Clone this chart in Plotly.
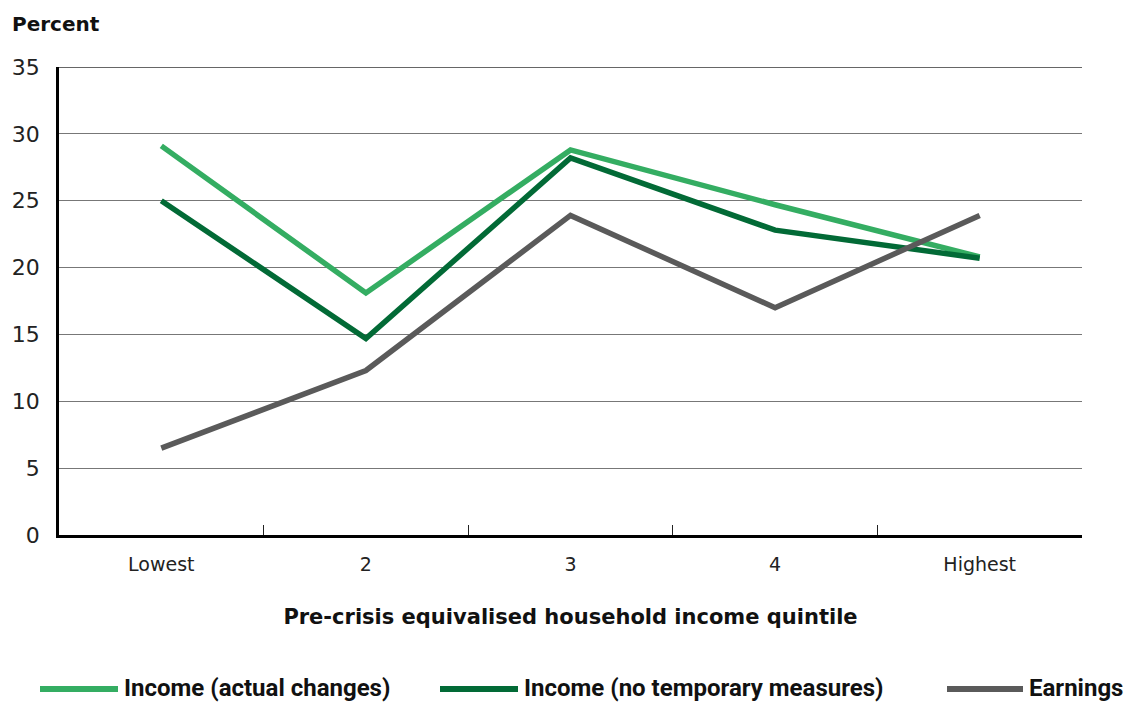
import plotly.graph_objects as go

categories = ["Lowest", "2", "3", "4", "Highest"]
income_actual = [29.1, 18.1, 28.8, 24.7, 20.8]
income_no_temp = [25.0, 14.7, 28.2, 22.8, 20.7]
earnings = [6.5, 12.3, 23.9, 17.0, 23.9]

series_names = ["Income (actual changes)", "Income (no temporary measures)", "Earnings"]
series_values = [income_actual, income_no_temp, earnings]
series_colors = ["#34AD62", "#026A36", "#5A5A5A"]
y_max = 35

OFF = 8  # page body margin
W, H = 1135, 704
L, R, T, B = 59, 1082, 67, 535

def px(x):
    return (x - L) / (R - L)

def py(y):
    return (B - y) / (B - T)

fig = go.Figure()
for name, vals, col in zip(series_names, series_values, series_colors):
    fig.add_trace(go.Scatter(x=categories, y=vals, mode="lines", name=name,
                             line=dict(color=col, width=5.5), showlegend=False))

base_font = "DejaVu Sans, sans-serif"

fig.update_layout(
    width=W - OFF, height=H - OFF,
    margin=dict(l=L - OFF, r=W - R, t=T - OFF, b=H - B, pad=0, autoexpand=False),
    paper_bgcolor="white", plot_bgcolor="white",
    font=dict(family=base_font, color="#1a1a1a"),
    xaxis=dict(type="category", range=[-0.5, 4.5], showgrid=False, automargin=False,
               ticks="inside", tickson="boundaries", ticklen=10, tickwidth=1, tickcolor="#222",
               showline=True, linecolor="black", linewidth=3,
               tickfont=dict(size=19, color="#222"), ticklabelstandoff=10,
               title=dict(text="<b>Pre-crisis equivalised household income quintile</b>",
                          font=dict(size=21, color="#111"), standoff=36)),
    yaxis=dict(range=[0, y_max], dtick=5, showgrid=True, gridcolor="#777", gridwidth=1.3,
               automargin=False,
               zeroline=False, showline=True, linecolor="black", linewidth=2.5,
               ticks="", tickfont=dict(size=22, color="#222"), ticklabelstandoff=12),
)

annotations = [dict(text="<b>Percent</b>", xref="paper", yref="paper", x=px(10), y=py(24),
                    xanchor="left", yanchor="middle", showarrow=False,
                    font=dict(size=20, color="#111"))]
shapes = [dict(type="line", xref="paper", yref="y", x0=0, x1=1, y0=y_max, y1=y_max,
               line=dict(color="#333", width=1.3), layer="below")]
legend_lines = [(40, 118), (440, 518), (947, 1023)]
legend_y = 689
for (x0, x1), name, col in zip(legend_lines, series_names, series_colors):
    shapes.append(dict(type="line", xref="paper", yref="paper", x0=px(x0), x1=px(x1),
                       y0=py(legend_y), y1=py(legend_y), line=dict(color=col, width=6)))
    annotations.append(dict(text="<b>" + name + "</b>", xref="paper", yref="paper",
                            x=px(x1 + 5), y=py(legend_y - 1), xanchor="left", yanchor="middle",
                            showarrow=False, borderpad=0,
                            font=dict(size=24, color="#111", family="Roboto, sans-serif")))
fig.update_layout(annotations=annotations, shapes=shapes)

fig.write_html("out.html")
